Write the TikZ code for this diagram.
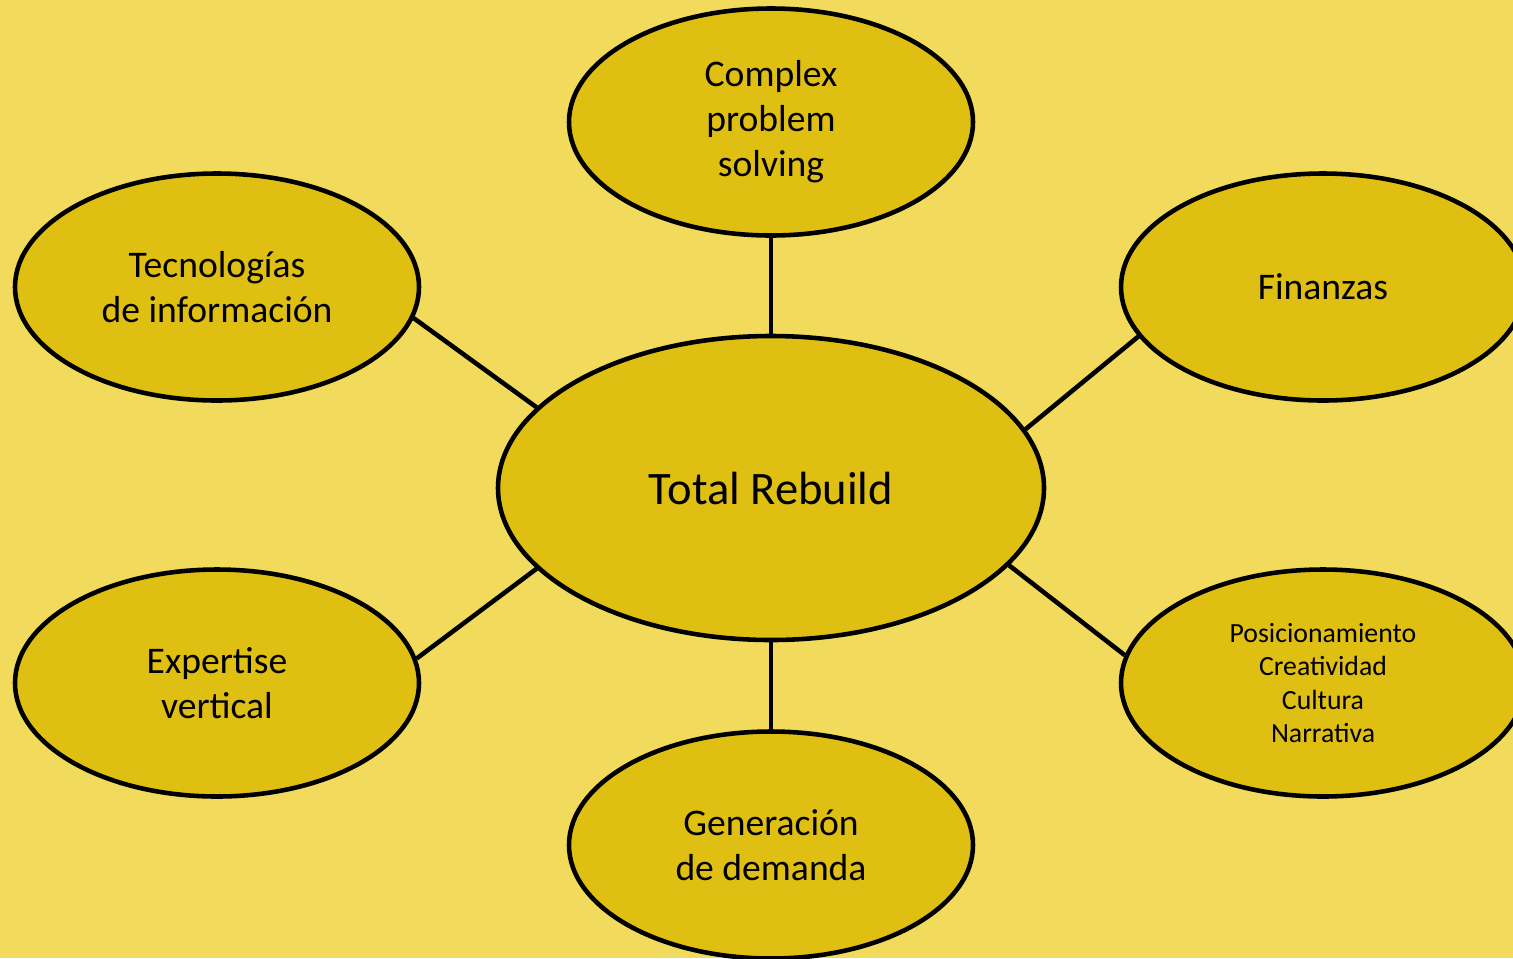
\documentclass[tikz,border=0pt]{standalone}
\usepackage{fontspec}
\setmainfont{Carlito}
\usetikzlibrary{shapes.geometric}
\definecolor{bgyellow}{HTML}{F2DB5C}
\definecolor{ovalfill}{HTML}{E0BF13}
\tikzset{
  oval/.style={ellipse,draw=black,line width=2.6pt,fill=ovalfill,inner sep=0pt,
    minimum width=8.08cm,minimum height=4.54cm,align=center,
    font=\fontsize{21.4}{25.6}\selectfont},
  link/.style={line width=2.6pt}
}

\begin{document}
\begin{tikzpicture}
\clip (0,0) rectangle (30.26,-19.16);
\fill[bgyellow] (0,0) rectangle (30.26,-19.16);

\node[oval,minimum width=10.92cm,minimum height=6.08cm,font=\fontsize{26.5}{30}\selectfont] (hub) at (15.42,-9.76) {Total Rebuild};

\node[oval] (cps) at (15.42,-2.44) {Complex\\problem\\solving};
\node[oval] (tec) at (4.34,-5.74) {Tecnologías\\de información};
\node[oval] (fin) at (26.46,-5.74) {Finanzas};
\node[oval] (exp) at (4.34,-13.66) {Expertise\\vertical};
\node[oval,font=\fontsize{15.8}{19}\selectfont] (pos) at (26.46,-13.66) {Posicionamiento\\Creatividad\\Cultura\\Narrativa};
\node[oval] (gen) at (15.42,-16.90) {Generación\\de demanda};

\draw[link] (cps.south) -- (hub.north);
\draw[link] (gen.north) -- (hub.south);
\draw[link] (tec.-9) -- (hub.161);
\draw[link] (fin.195.6) -- (hub.13.8);
\draw[link] (exp.7.4) -- (hub.199);
\draw[link] (pos.172.8) -- (hub.-18.9);
\end{tikzpicture}
\end{document}
